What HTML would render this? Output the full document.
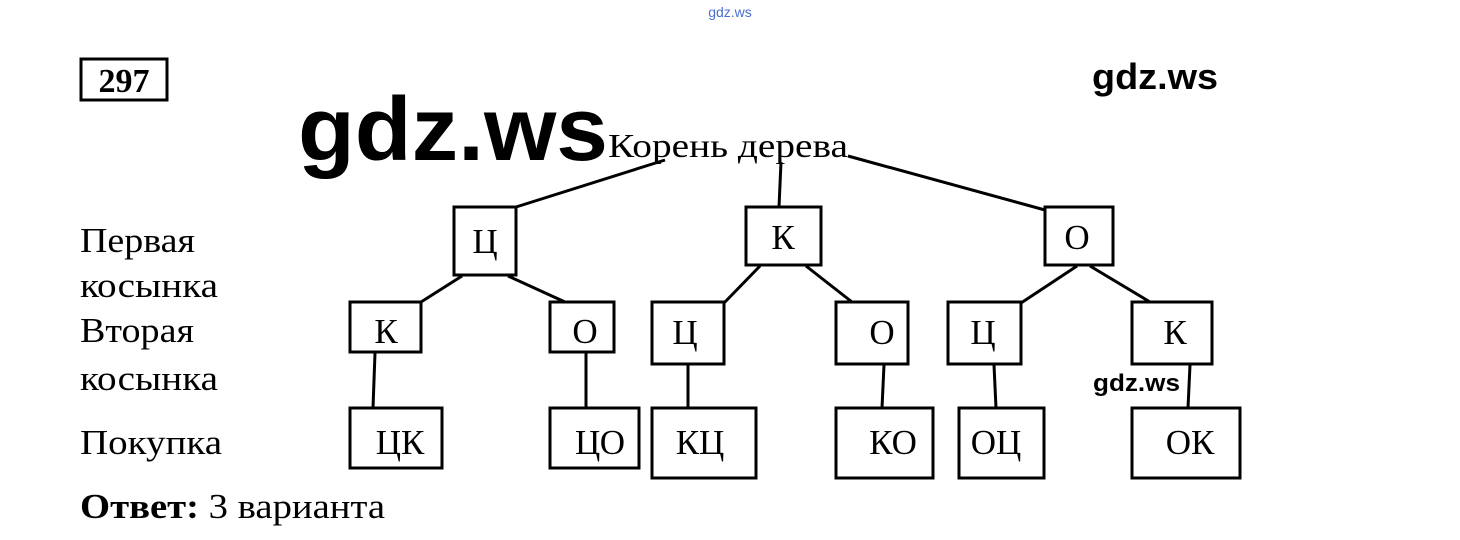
<!DOCTYPE html>
<html><head><meta charset="utf-8"><style>
html,body{margin:0;padding:0;background:#fff;}
svg{display:block;}
.s{font-family:"Liberation Serif","DejaVu Serif",serif;fill:#000;}
.g{font-family:"Liberation Sans","DejaVu Sans",sans-serif;font-weight:bold;fill:#000;}
</style></head><body>
<svg width="1460" height="540" viewBox="0 0 1460 540" xmlns="http://www.w3.org/2000/svg">
<text x="730" y="17" text-anchor="middle" font-family="Liberation Sans,sans-serif" font-size="14" fill="#4a6fd0">gdz.ws</text>
<rect x="81" y="59" width="86" height="41" fill="none" stroke="#000" stroke-width="3"/>
<text x="124" y="92" text-anchor="middle" class="s" font-size="34" font-weight="bold">297</text>
<text x="1092" y="89" class="g" font-size="36" textLength="126" lengthAdjust="spacingAndGlyphs">gdz.ws</text>
<text x="298" y="160" class="g" font-size="90" textLength="310" lengthAdjust="spacingAndGlyphs">gdz.ws</text>
<text x="608" y="157" class="s" font-size="34" textLength="240" lengthAdjust="spacingAndGlyphs">Корень дерева</text>
<g class="s" font-size="35">
<text x="80" y="252" textLength="115" lengthAdjust="spacingAndGlyphs">Первая</text>
<text x="80" y="297" textLength="138" lengthAdjust="spacingAndGlyphs">косынка</text>
<text x="80" y="342" textLength="114" lengthAdjust="spacingAndGlyphs">Вторая</text>
<text x="80" y="390" textLength="138" lengthAdjust="spacingAndGlyphs">косынка</text>
<text x="80" y="454" textLength="142" lengthAdjust="spacingAndGlyphs">Покупка</text>
<text x="80" y="518" textLength="305" lengthAdjust="spacingAndGlyphs"><tspan font-weight="bold">Ответ:</tspan> 3 варианта</text>
</g>
<g stroke="#000" stroke-width="3" fill="none">
<line x1="665" y1="160" x2="516" y2="207"/>
<line x1="781" y1="162" x2="779" y2="207"/>
<line x1="848" y1="156" x2="1045" y2="210"/>
<rect x="454" y="207" width="62" height="68"/>
<rect x="746" y="207" width="75" height="58"/>
<rect x="1045" y="207" width="68" height="58"/>
<line x1="462" y1="276" x2="421" y2="302"/>
<line x1="508" y1="276" x2="565" y2="302"/>
<line x1="760" y1="266" x2="724" y2="303"/>
<line x1="806" y1="266" x2="852" y2="302"/>
<line x1="1077" y1="266" x2="1021" y2="303"/>
<line x1="1090" y1="266" x2="1150" y2="302"/>
<rect x="350" y="302" width="71" height="50"/>
<rect x="550" y="302" width="64" height="50"/>
<rect x="652" y="302" width="72" height="62"/>
<rect x="836" y="302" width="72" height="62"/>
<rect x="948" y="302" width="73" height="62"/>
<rect x="1132" y="302" width="80" height="62"/>
<line x1="375" y1="353" x2="373" y2="408"/>
<line x1="586" y1="353" x2="586" y2="408"/>
<line x1="688" y1="365" x2="688" y2="408"/>
<line x1="884" y1="365" x2="882" y2="408"/>
<line x1="994" y1="365" x2="996" y2="408"/>
<line x1="1190" y1="365" x2="1188" y2="408"/>
<rect x="350" y="408" width="92" height="60"/>
<rect x="550" y="408" width="89" height="60"/>
<rect x="652" y="408" width="104" height="70"/>
<rect x="836" y="408" width="97" height="70"/>
<rect x="959" y="408" width="85" height="70"/>
<rect x="1132" y="408" width="108" height="70"/>
</g>
<g class="s" font-size="35" text-anchor="middle">
<text x="485" y="253">Ц</text>
<text x="783" y="249">К</text>
<text x="1077" y="249">О</text>
<text x="386" y="343">К</text>
<text x="585" y="343">О</text>
<text x="685" y="344">Ц</text>
<text x="882" y="344">О</text>
<text x="983" y="344">Ц</text>
<text x="1175" y="344">К</text>
<text x="400" y="454">ЦК</text>
<text x="600" y="454">ЦО</text>
<text x="700" y="454">КЦ</text>
<text x="893" y="454">КО</text>
<text x="996" y="454">ОЦ</text>
<text x="1190" y="454">ОК</text>
</g>
<text x="1093" y="391" class="g" font-size="24" textLength="87" lengthAdjust="spacingAndGlyphs">gdz.ws</text>
</svg>
</body></html>
